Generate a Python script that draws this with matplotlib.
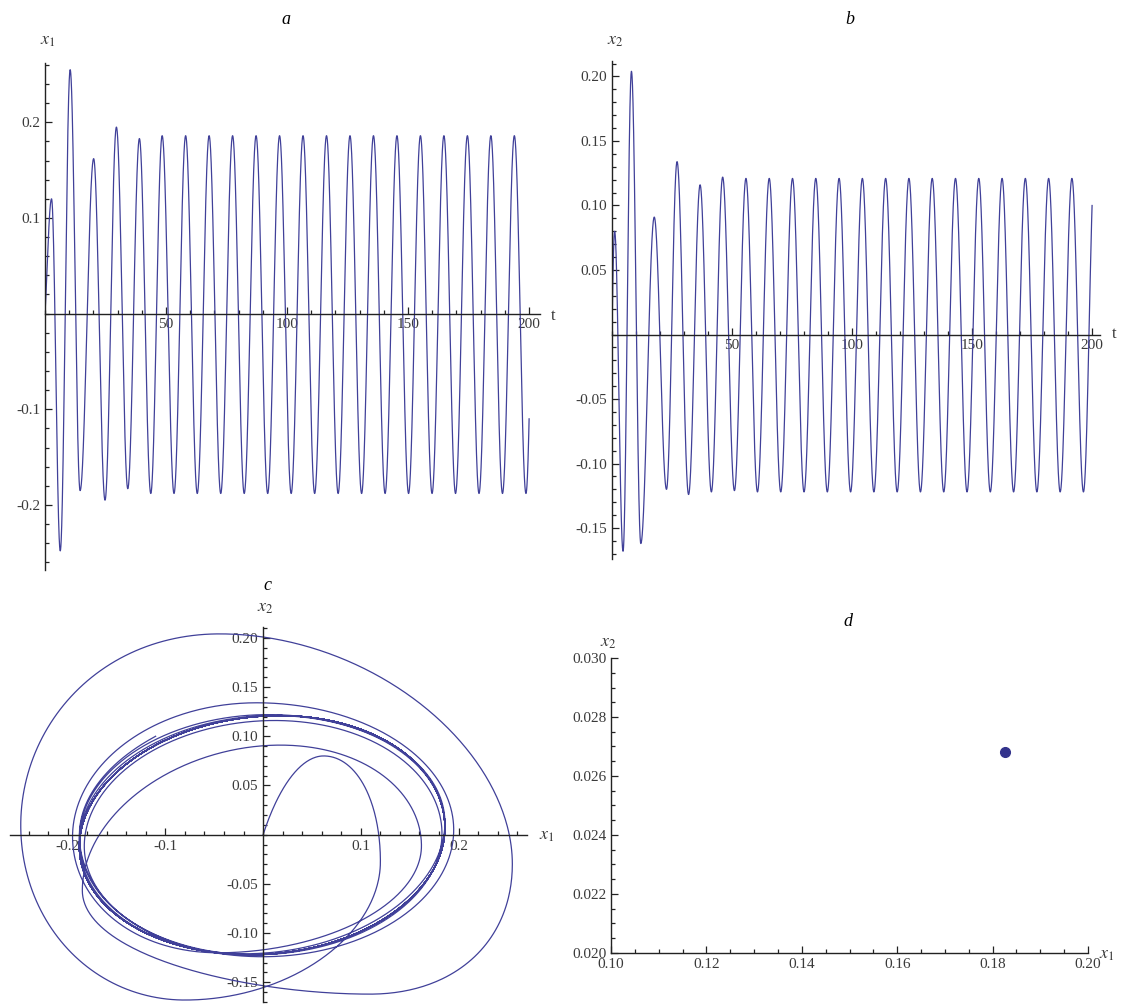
import numpy as np
import matplotlib
matplotlib.use("Agg")
import matplotlib.pyplot as plt
from matplotlib.ticker import MultipleLocator, FixedLocator, FormatStrFormatter

plt.rcParams["font.family"] = ["Liberation Serif", "DejaVu Serif"]
plt.rcParams["mathtext.fontset"] = "stix"

W, H = 1121, 1007

# extrema of x1(t) (time, value); first and last entries are the curve ends
x1_t = [0, 2.7, 6.3, 10.4, 14.5, 20.1, 24.8, 29.5, 34.2, 39.0, 43.7, 48.4, 53.3, 58.1,
        62.9, 67.8, 72.6, 77.5, 82.3, 87.2, 92.0, 96.9, 101.7, 106.6, 111.4, 116.3,
        121.1, 126.0, 130.8, 135.7, 140.5, 145.4, 150.2, 155.1, 159.9, 164.8, 169.6,
        174.5, 179.3, 184.2, 189.0, 193.9, 198.7, 200]
x1_v = [0, 0.120, -0.248, 0.255, -0.185, 0.162, -0.195, 0.195, -0.183, 0.183, -0.188,
        0.186, -0.188, 0.186, -0.188, 0.186, -0.188, 0.186, -0.188, 0.186, -0.188,
        0.186, -0.188, 0.186, -0.188, 0.186, -0.188, 0.186, -0.188, 0.186, -0.188,
        0.186, -0.188, 0.186, -0.188, 0.186, -0.188, 0.186, -0.188, 0.186, -0.188,
        0.186, -0.188, -0.110]

# extrema of x2(t)
x2_t = [0, 1.1, 4.6, 8.1, 12.0, 17.6, 22.7, 27.1, 31.9, 36.7, 41.4, 46.1, 51.0, 55.8,
        60.6, 65.5, 70.3, 75.2, 80.0, 84.9, 89.7, 94.6, 99.4, 104.3, 109.1, 114.0,
        118.8, 123.7, 128.5, 133.4, 138.2, 143.1, 147.9, 152.8, 157.6, 162.5, 167.3,
        172.2, 177.0, 181.9, 186.7, 191.6, 196.4, 200]
x2_v = [0, 0.080, -0.168, 0.204, -0.162, 0.091, -0.120, 0.134, -0.124, 0.116, -0.122,
        0.122, -0.121, 0.121, -0.122, 0.121, -0.122, 0.121, -0.122, 0.121, -0.122,
        0.121, -0.122, 0.121, -0.122, 0.121, -0.122, 0.121, -0.122, 0.121, -0.122,
        0.121, -0.122, 0.121, -0.122, 0.121, -0.122, 0.121, -0.122, 0.121, -0.122,
        0.121, -0.122, 0.100]

# panel d: single point
d_x = [0.1826]
d_y = [0.0268]

line_col = (0.25, 0.25, 0.6)
axis_col = "#222222"
label_col = "#3a3a3a"


def wave(tk, vk, t):
    # smooth half waves joining the read extrema
    tk = np.asarray(tk, float)
    vk = np.asarray(vk, float)
    y = np.zeros_like(t)
    n = len(tk)
    for i in range(n - 1):
        t0, t1, y0, y1 = tk[i], tk[i + 1], vk[i], vk[i + 1]
        m = (t >= t0) & (t <= t1)
        s = (t[m] - t0) / (t1 - t0)
        if i == 0:
            f = min((t1 - t0) / (tk[2] - tk[1]), 1)
            g = (1 - np.cos(np.pi * f * (1 - s))) / (1 - np.cos(np.pi * f))
            y[m] = y1 + (y0 - y1) * g
        elif i == n - 2:
            f = min((t1 - t0) / (t0 - tk[i - 1]), 1)
            g = (1 - np.cos(np.pi * f * s)) / (1 - np.cos(np.pi * f))
            y[m] = y0 + (y1 - y0) * g
        else:
            y[m] = y0 + (y1 - y0) * (1 - np.cos(np.pi * s)) / 2
    return y


t = np.linspace(0, 200, 12000)
x1 = wave(x1_t, x1_v, t)
x2 = wave(x2_t, x2_v, t)


def box(left, top, right, bottom):
    return [left / W, 1 - bottom / H, (right - left) / W, (bottom - top) / H]


def style(ax, xzero, yzero):
    for s in ["top", "right"]:
        ax.spines[s].set_visible(False)
    ax.spines["left"].set_position(("data", xzero))
    ax.spines["bottom"].set_position(("data", yzero))
    for s in ["left", "bottom"]:
        ax.spines[s].set_color(axis_col)
        ax.spines[s].set_linewidth(1.0)
    ax.tick_params(which="both", direction="in", colors=axis_col, labelcolor=label_col,
                   labelsize=11, width=0.9)
    ax.tick_params(which="major", length=5)
    ax.tick_params(which="minor", length=2.8)
    ax.patch.set_alpha(0)


def ftext(x, y, s, **kw):
    fig.text(x / W, 1 - y / H, s, ha="center", va="center", **kw)


fig = plt.figure(figsize=(W / 100, H / 100), dpi=100)

# a
ax = fig.add_axes(box(45, 63, 540, 570))
ax.plot(t, x1, color=line_col, lw=0.9)
ax.set_xlim(0, 204.5)
ax.set_ylim(-0.268, 0.262)
style(ax, 0, 0)
ax.xaxis.set_major_locator(FixedLocator([50, 100, 150, 200]))
ax.xaxis.set_minor_locator(MultipleLocator(10))
ax.yaxis.set_major_locator(FixedLocator([-0.2, -0.1, 0.1, 0.2]))
ax.yaxis.set_minor_locator(MultipleLocator(0.02))
ax.yaxis.set_major_formatter(FormatStrFormatter("%.1f"))
ftext(286, 20, "a", fontsize=13, style="italic")
ftext(48, 40, r"$x_1$", fontsize=13, color=label_col)
ftext(553, 316, "t", fontsize=12, color=label_col)

# b
ax = fig.add_axes(box(612, 61, 1100, 559))
ax.plot(t, x2, color=line_col, lw=0.9)
ax.set_xlim(0, 203.3)
ax.set_ylim(-0.174, 0.212)
style(ax, 0, 0)
ax.xaxis.set_major_locator(FixedLocator([50, 100, 150, 200]))
ax.xaxis.set_minor_locator(MultipleLocator(10))
ax.yaxis.set_major_locator(FixedLocator([-0.15, -0.10, -0.05, 0.05, 0.10, 0.15, 0.20]))
ax.yaxis.set_minor_locator(MultipleLocator(0.01))
ax.yaxis.set_major_formatter(FormatStrFormatter("%.2f"))
ftext(850, 20, "b", fontsize=13, style="italic")
ftext(615, 40, r"$x_2$", fontsize=13, color=label_col)
ftext(1114, 334, "t", fontsize=12, color=label_col)

# c
ax = fig.add_axes(box(10, 627, 527, 1002))
ax.plot(x1, x2, color=line_col, lw=0.9)
ax.set_xlim(-0.259, 0.27)
ax.set_ylim(-0.17, 0.211)
style(ax, 0, 0)
ax.xaxis.set_major_locator(FixedLocator([-0.2, -0.1, 0.1, 0.2]))
ax.xaxis.set_minor_locator(MultipleLocator(0.02))
ax.xaxis.set_major_formatter(FormatStrFormatter("%.1f"))
ax.yaxis.set_major_locator(FixedLocator([-0.15, -0.10, -0.05, 0.05, 0.10, 0.15, 0.20]))
ax.yaxis.set_minor_locator(MultipleLocator(0.01))
ax.yaxis.set_major_formatter(FormatStrFormatter("%.2f"))
ftext(267, 585, "c", fontsize=13, style="italic")
ftext(265, 608, r"$x_2$", fontsize=13, color=label_col)
ftext(547, 835, r"$x_1$", fontsize=13, color=label_col)

# d
ax = fig.add_axes(box(611, 658, 1088, 953))
ax.plot(d_x, d_y, "o", color=(0.2, 0.2, 0.55), ms=7)
ax.set_xlim(0.10, 0.20)
ax.set_ylim(0.020, 0.030)
style(ax, 0.10, 0.020)
ax.xaxis.set_major_locator(FixedLocator([0.10, 0.12, 0.14, 0.16, 0.18, 0.20]))
ax.xaxis.set_minor_locator(MultipleLocator(0.005))
ax.xaxis.set_major_formatter(FormatStrFormatter("%.2f"))
ax.yaxis.set_major_locator(FixedLocator([0.020, 0.022, 0.024, 0.026, 0.028, 0.030]))
ax.yaxis.set_minor_locator(MultipleLocator(0.0005))
ax.yaxis.set_major_formatter(FormatStrFormatter("%.3f"))
ftext(848, 622, "d", fontsize=13, style="italic")
ftext(608, 642, r"$x_2$", fontsize=13, color=label_col)
ftext(1107, 955, r"$x_1$", fontsize=13, color=label_col)

fig.savefig("out.png", dpi=100)
